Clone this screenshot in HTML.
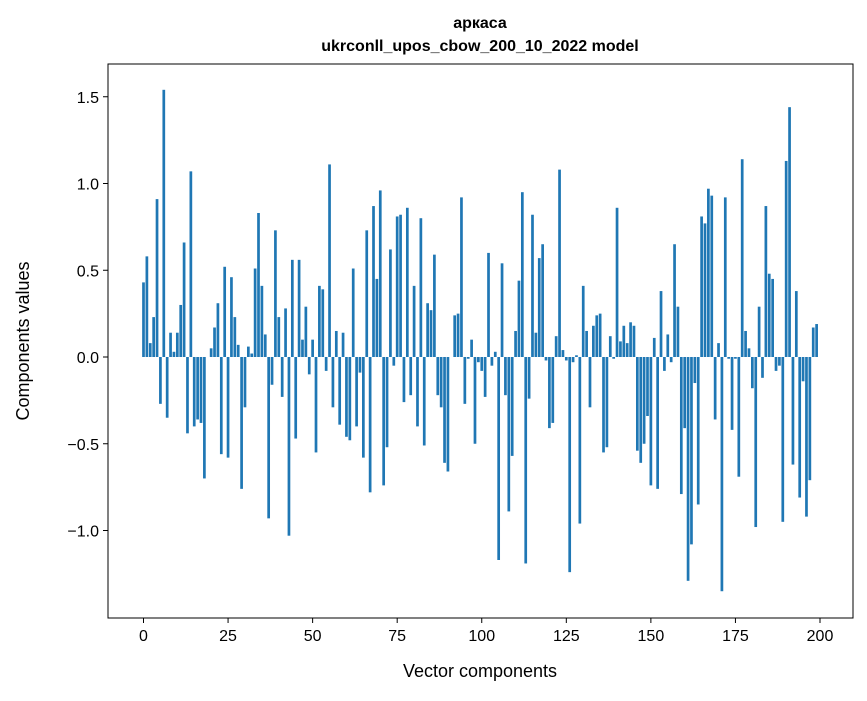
<!DOCTYPE html>
<html><head><meta charset="utf-8"><style>
body{margin:0;background:#fff}
svg text{font-family:"Liberation Sans",Arial,sans-serif}
</style></head><body>
<svg id="chart" width="867" height="696" xmlns="http://www.w3.org/2000/svg">
<rect width="867" height="696" fill="#fff"/>
<text x="480" y="28" text-anchor="middle" font-size="16" font-weight="bold">аркаса</text>
<text x="480" y="51" text-anchor="middle" font-size="16" font-weight="bold">ukrconll_upos_cbow_200_10_2022 model</text>
<g id="bars"></g>
<g id="axes"></g>
<text x="480" y="677" text-anchor="middle" font-size="18">Vector components</text>
<text transform="translate(29,341) rotate(-90)" text-anchor="middle" font-size="18">Components values</text>
</svg>
<script>
const values=[0.43,0.58,0.08,0.23,0.91,-0.27,1.54,-0.35,0.14,0.03,0.14,0.30,0.66,-0.44,1.07,-0.40,-0.36,-0.38,-0.70,0.00,0.05,0.17,0.31,-0.56,0.52,-0.58,0.46,0.23,0.07,-0.76,-0.29,0.06,0.02,0.51,0.83,0.41,0.13,-0.93,-0.16,0.73,0.23,-0.23,0.28,-1.03,0.56,-0.47,0.56,0.10,0.29,-0.10,0.10,-0.55,0.41,0.39,-0.08,1.11,-0.29,0.15,-0.39,0.14,-0.46,-0.48,0.51,-0.40,-0.09,-0.58,0.73,-0.78,0.87,0.45,0.96,-0.74,-0.52,0.62,-0.05,0.81,0.82,-0.26,0.86,-0.22,0.41,-0.40,0.80,-0.51,0.31,0.27,0.59,-0.22,-0.29,-0.61,-0.66,0.0,0.24,0.25,0.92,-0.27,-0.01,0.10,-0.50,-0.03,-0.08,-0.23,0.60,-0.05,0.03,-1.17,0.54,-0.22,-0.89,-0.57,0.15,0.44,0.95,-1.19,-0.24,0.82,0.14,0.57,0.65,-0.02,-0.41,-0.38,0.12,1.08,0.04,-0.02,-1.24,-0.03,0.01,-0.96,0.41,0.15,-0.29,0.18,0.24,0.25,-0.55,-0.52,0.12,-0.01,0.86,0.09,0.18,0.08,0.20,0.18,-0.54,-0.61,-0.50,-0.34,-0.74,0.11,-0.76,0.38,-0.08,0.13,-0.03,0.65,0.29,-0.79,-0.41,-1.29,-1.08,-0.15,-0.85,0.81,0.77,0.97,0.93,-0.36,0.08,-1.35,0.92,-0.01,-0.42,-0.01,-0.69,1.14,0.15,0.05,-0.18,-0.98,0.29,-0.12,0.87,0.48,0.45,-0.08,-0.05,-0.95,1.13,1.44,-0.62,0.38,-0.81,-0.14,-0.92,-0.71,0.17,0.19];
const xTicks=[0,25,50,75,100,125,150,175,200];
const yTicks=[-1.0,-0.5,0.0,0.5,1.0,1.5];
const yTickLabels=["\u22121.0","\u22120.5","0.0","0.5","1.0","1.5"];
const NS="http://www.w3.org/2000/svg";
const L=108,R=853,T=64,B=618;
const xs=v=>143.5+v*(820-143.5)/200;
const ys=v=>357-v*173.5;
const bars=document.getElementById('bars');
values.forEach((v,i)=>{
 const r=document.createElementNS(NS,'rect');
 const w=0.8*(820-143.5)/200;
 r.setAttribute('x',xs(i)-w/2);
 r.setAttribute('width',w);
 r.setAttribute('y',Math.min(ys(v),ys(0)));
 r.setAttribute('height',Math.abs(ys(v)-ys(0)));
 r.setAttribute('fill','#1f77b4');
 
 
 bars.appendChild(r);
});
const ax=document.getElementById('axes');
function el(tag,attrs,txt){const e=document.createElementNS(NS,tag);for(const k in attrs)e.setAttribute(k,attrs[k]);if(txt!==undefined)e.textContent=txt;ax.appendChild(e);return e;}
const frame=el('rect',{x:L,y:T,width:R-L,height:B-T,fill:'none',stroke:'#000','stroke-width':1});


xTicks.forEach(t=>{
 const x=xs(t);
 const tk=el('line',{x1:x,x2:x,y1:B,y2:B+5,stroke:'#000'});
 
 
 const lb=el('text',{x:x,y:B+23,'text-anchor':'middle','font-size':16},String(t));
 
 
});
yTicks.forEach((t,i)=>{
 const y=ys(t);
 const tk=el('line',{x1:L-5,x2:L,y1:y,y2:y,stroke:'#000'});
 
 
 const lb=el('text',{x:L-9,y:y+6,'text-anchor':'end','font-size':16},yTickLabels[i]);
 
 
});
</script>
</body></html>
